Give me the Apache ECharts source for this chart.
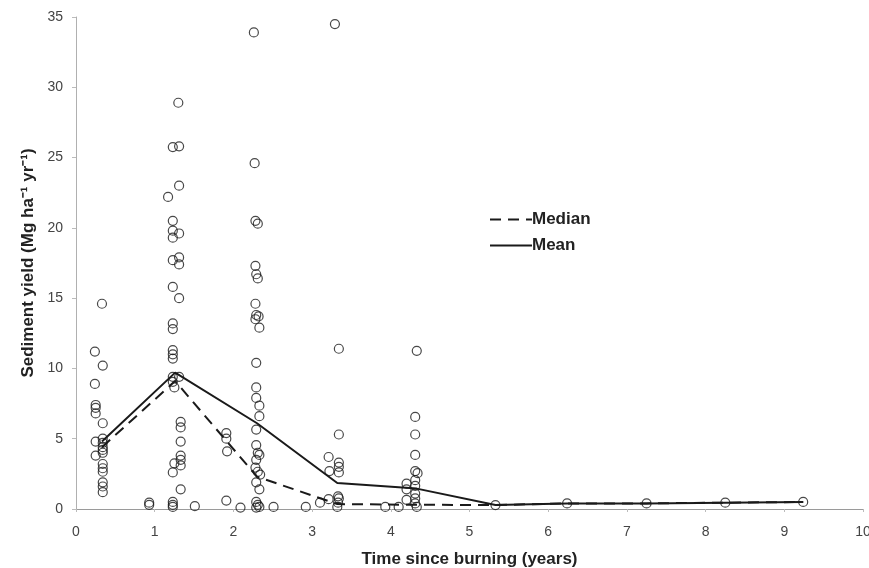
<!DOCTYPE html>
<html><head><meta charset="utf-8">
<script src="https://cdn.jsdelivr.net/npm/echarts@6/dist/echarts.min.js"></script>
<style>html,body{margin:0;padding:0;background:#fff}#c{width:869px;height:568px}</style>
</head><body><div id="c"></div>
<script>
// Observations (time since burning, sediment yield)
const obsX = [
  0.33,0.24,0.34,0.24,0.25,0.25,0.25,0.34,0.25,0.34,0.34,0.34,0.25,0.34,0.34,0.34,0.34,0.34,0.34,0.34,0.34,
  1.30,1.23,1.31,1.31,1.17,1.23,1.23,1.31,1.23,1.23,1.31,1.31,1.23,1.31,1.23,1.23,1.23,1.23,1.23,1.23,1.31,1.23,1.25,1.33,1.33,1.33,1.33,1.33,1.33,1.25,1.23,1.33,1.23,1.23,1.23,1.51,0.93,0.93,
  1.91,1.91,1.92,1.91,2.09,2.51,
  2.26,2.27,2.28,2.31,2.28,2.29,2.31,2.28,2.29,2.32,2.28,2.33,2.29,2.29,2.29,2.33,2.33,2.29,2.29,2.31,2.33,2.29,2.28,2.31,2.34,2.29,2.33,2.29,2.31,2.33,2.29,
  2.92,3.10,3.21,3.21,3.22,3.29,3.34,3.34,3.34,3.34,3.34,3.33,3.34,3.33,3.32,3.93,4.10,
  4.33,4.31,4.31,4.31,4.31,4.34,4.31,4.20,4.31,4.20,4.31,4.20,4.31,4.31,4.33,
  5.33,6.24,7.25,8.25,9.24
];
const obsY = [
  14.6,11.2,10.2,8.9,7.4,7.2,6.8,6.1,4.8,5.0,4.7,4.4,3.8,4.2,4.0,3.2,2.9,2.65,1.9,1.6,1.2,
  28.9,25.75,25.8,23.0,22.2,20.5,19.8,19.6,19.3,17.7,17.9,17.4,15.8,15.0,13.2,12.8,11.3,11.0,10.7,9.4,9.4,9.05,8.65,6.2,5.8,4.8,3.8,3.5,3.1,3.25,2.6,1.4,0.5,0.3,0.15,0.2,0.45,0.3,
  5.4,5.0,4.1,0.6,0.1,0.15,
  33.9,24.6,20.5,20.3,17.3,16.7,16.4,14.6,13.8,13.7,13.5,12.9,10.4,8.65,7.9,7.35,6.6,5.65,4.55,4.0,3.85,3.5,2.95,2.65,2.45,1.9,1.4,0.5,0.3,0.15,0.1,
  0.15,0.45,0.7,3.7,2.7,34.5,11.4,5.3,3.3,3.0,2.6,0.9,0.75,0.45,0.15,0.15,0.15,
  11.25,6.55,5.3,3.85,2.7,2.55,2.05,1.8,1.65,1.4,1.1,0.65,0.75,0.4,0.15,
  0.28,0.4,0.4,0.45,0.5
];
// Summary lines
const lineX = [0.33,1.26,2.30,3.32,4.33,5.33,6.24,7.25,8.25,9.24];
const meanY = [4.8,9.7,6.1,1.85,1.45,0.28,0.4,0.4,0.45,0.5];
const medianY = [4.4,9.1,2.3,0.35,0.3,0.28,0.4,0.4,0.45,0.5];
const xTicks = [0,1,2,3,4,5,6,7,8,9,10];
const yTicks = [0,5,10,15,20,25,30,35];

const pairs = (xs, ys) => xs.map((x, i) => [x, ys[i]]);
const chart = echarts.init(document.getElementById('c'), null, {renderer: 'canvas'});
const font = 'Arial, "Liberation Sans", sans-serif';
chart.setOption({
  backgroundColor: '#ffffff',
  animation: false,
  grid: {left: 76, right: 6, top: 17, bottom: 59, outerBoundsMode: 'none', containLabel: false},
  legend: {
    orient: 'vertical', left: 484, top: 206, itemGap: 9,
    itemWidth: 42, itemHeight: 14,
    itemStyle: {opacity: 0},
    data: [{name: 'Median'}, {name: 'Mean'}],
    textStyle: {fontFamily: font, fontWeight: 'bold', fontSize: 17, color: '#222', padding: [0, 0, 0, -5]}
  },
  xAxis: {
    type: 'value', min: xTicks[0], max: xTicks[xTicks.length - 1], interval: 1,
    name: 'Time since burning (years)', nameLocation: 'middle', nameGap: 42,
    nameTextStyle: {fontFamily: font, fontWeight: 'bold', fontSize: 17, color: '#222'},
    axisLine: {lineStyle: {color: '#9a9a9a', width: 1}},
    axisTick: {show: true, length: 3, lineStyle: {color: '#bbb'}},
    axisLabel: {fontFamily: font, fontSize: 14, color: '#444', margin: 16},
    splitLine: {show: false}
  },
  yAxis: {
    type: 'value', min: yTicks[0], max: yTicks[yTicks.length - 1], interval: 5,
    name: 'Sediment yield (Mg ha\u207B\u00B9 yr\u207B\u00B9)', nameLocation: 'middle', nameGap: 39, nameRotate: 90,
    nameTextStyle: {fontFamily: font, fontWeight: 'bold', fontSize: 17, color: '#222'},
    axisLine: {show: true, lineStyle: {color: '#b0b0b0', width: 1}},
    axisTick: {show: true, length: 4, lineStyle: {color: '#bbb'}},
    axisLabel: {fontFamily: font, fontSize: 14, color: '#444', margin: 13},
    splitLine: {show: false}
  },
  series: [
    {
      name: 'Obs', type: 'scatter', data: pairs(obsX, obsY),
      symbol: 'circle', symbolSize: 9,
      itemStyle: {color: 'transparent', borderColor: '#1a1a1a', borderWidth: 1.2},
      z: 3
    },
    {
      name: 'Median', type: 'line', data: pairs(lineX, medianY),
      symbol: 'none', lineStyle: {color: '#1a1a1a', width: 2, type: [11, 7]},
      itemStyle: {color: '#1a1a1a'}, z: 2
    },
    {
      name: 'Mean', type: 'line', data: pairs(lineX, meanY),
      symbol: 'none', lineStyle: {color: '#1a1a1a', width: 2},
      itemStyle: {color: '#1a1a1a'}, z: 2
    }
  ]
});
</script></body></html>
